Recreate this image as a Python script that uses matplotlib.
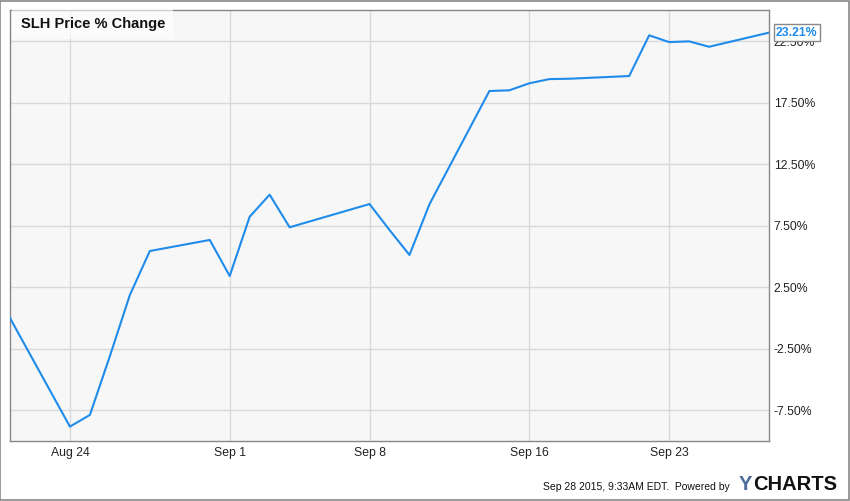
import pandas as pd
import matplotlib
matplotlib.use("Agg")
from matplotlib import pyplot as plt

plt.rcParams['font.family'] = ['Liberation Sans', 'DejaVu Sans']

#Data (trading days, % change since Aug 21)
dates = ["2015-08-21", "2015-08-24", "2015-08-25", "2015-08-26", "2015-08-27", "2015-08-28",
         "2015-08-31", "2015-09-01", "2015-09-02", "2015-09-03", "2015-09-04",
         "2015-09-08", "2015-09-09", "2015-09-10", "2015-09-11",
         "2015-09-14", "2015-09-15", "2015-09-16", "2015-09-17", "2015-09-18",
         "2015-09-21", "2015-09-22", "2015-09-23", "2015-09-24", "2015-09-25",
         "2015-09-28"]
pct_change = [0.0, -8.83, -7.88, -3.1, 1.87, 5.45,
              6.35, 3.42, 8.24, 10.03, 7.38,
              9.27, 7.16, 5.13, 9.25,
              18.46, 18.52, 19.09, 19.43, 19.46,
              19.68, 22.99, 22.44, 22.5, 22.06,
              23.21]
ytick_vals = [-7.5, -2.5, 2.5, 7.5, 12.5, 17.5, 22.5]
xtick_dates = ["2015-08-24", "2015-09-01", "2015-09-08", "2015-09-16", "2015-09-23"]
xtick_labels = ["Aug 24", "Sep 1", "Sep 8", "Sep 16", "Sep 23"]

x = pd.to_datetime(dates)
line_color = "#1f8ceb"

fig = plt.figure(figsize=(8.5, 5.01), dpi=100)
fig.patch.set_facecolor("white")
ax = fig.add_axes([10/850, 60/501, 759/850, 431/501])
ax.set_facecolor("#f7f7f7")

ax.plot(x, pct_change, color=line_color, linewidth=1.5, zorder=3)

#Axes limits and ticks
ax.set_xlim(pd.Timestamp("2015-08-21"), pd.Timestamp("2015-09-28"))
ax.set_ylim(-10.0, 25.05)
ax.set_xticks(pd.to_datetime(xtick_dates))
ax.set_xticklabels(xtick_labels)
ax.set_yticks(ytick_vals)
ax.set_yticklabels([f"{v:.2f}%" for v in ytick_vals])
ax.yaxis.tick_right()
ax.tick_params(axis="both", length=0, labelsize=8.8, colors="#222222")
ax.tick_params(axis="y", pad=3.5)
ax.tick_params(axis="x", pad=4)
ax.grid(True, color="#d9d9d9", linewidth=1)
ax.set_axisbelow(True)
for s in ax.spines.values():
    s.set_color("#888888")
    s.set_linewidth(1)

#Title box
ax.text(0.014, 0.968, "SLH Price % Change", transform=ax.transAxes, fontsize=10.5,
        fontweight="bold", color="#111111", va="center", ha="left",
        bbox=dict(facecolor="white", alpha=0.6, edgecolor="none", pad=6))

#Last value label (sits over the 22.50% tick label, as in the original)
ax.annotate(f"{pct_change[-1]:.2f}%", xy=(1.0, pct_change[-1]),
            xycoords=("axes fraction", "data"), xytext=(5, 0), textcoords="offset points",
            fontsize=8.8, fontweight="bold", color=line_color, va="center", ha="left",
            bbox=dict(boxstyle="square,pad=0.2", facecolor="white", edgecolor="#888888", linewidth=1),
            annotation_clip=False, zorder=5)

#Footer
fig.text(543/850, 1 - 487/501, "Sep 28 2015, 9:33AM EDT.  Powered by", fontsize=7.5,
         color="#111111", va="center", ha="left")
fig.text(739/850, 1 - 485/501, "Y", fontsize=14.5, fontweight="bold", color="#4a6c9b",
         va="center", ha="left")
fig.text(753/850, 1 - 485/501, "CHARTS", fontsize=14.5, fontweight="bold", color="#111111",
         va="center", ha="left")

#Outer border
fig.patches.append(plt.Rectangle((0.0005, 0.001), 0.998, 0.997, transform=fig.transFigure,
                                 fill=False, edgecolor="#888888", linewidth=1.2))

plt.savefig("out.png", dpi=100)
